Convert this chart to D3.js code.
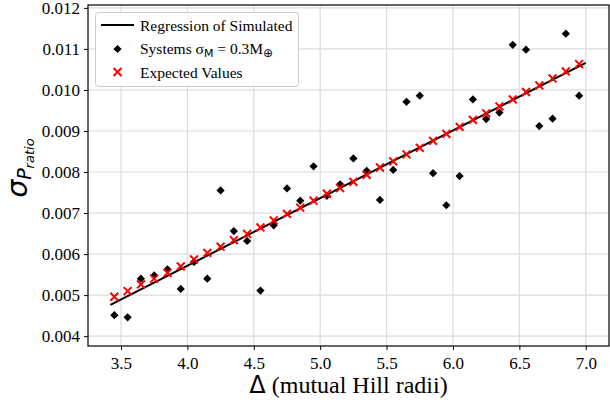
<!DOCTYPE html>
<html>
<head>
<meta charset="utf-8">
<script src="https://cdn.jsdelivr.net/npm/d3@7"></script>
<style>
  body { margin: 0; background: #fff; }
  svg { display: block; }
  text { font-family: "Liberation Serif", "Times New Roman", serif; fill: #000; }
</style>
</head>
<body>
<div id="chart-area"></div>
<script>
// Δ values (mutual Hill radii)
const deltas = [3.45, 3.55, 3.65, 3.75, 3.85, 3.95, 4.05, 4.15, 4.25, 4.35, 4.45, 4.55,
  4.65, 4.75, 4.85, 4.95, 5.05, 5.15, 5.25, 5.35, 5.45, 5.55, 5.65, 5.75,
  5.85, 5.95, 6.05, 6.15, 6.25, 6.35, 6.45, 6.55, 6.65, 6.75, 6.85, 6.95]

// simulated systems, sigma_M = 0.3 M_earth
const systems = [0.00451, 0.00446, 0.00540, 0.00548, 0.00563, 0.00515, 0.00581, 0.00540,
  0.00755, 0.00656, 0.00632, 0.00511, 0.00670, 0.00760, 0.00730, 0.00814, 0.00742, 0.00770,
  0.00833, 0.00803, 0.00732, 0.00805, 0.00971, 0.00986, 0.00797, 0.00719, 0.00790, 0.00977,
  0.00929, 0.00945, 0.01110, 0.01098, 0.00912, 0.00930, 0.01137, 0.00986]

// expected values
const expected = [0.00496, 0.00510, 0.00526, 0.00540, 0.00554, 0.00570, 0.00587, 0.00603,
  0.00618, 0.00634, 0.00649, 0.00665, 0.00682, 0.00698, 0.00713, 0.00730, 0.00747, 0.00761,
  0.00776, 0.00793, 0.00811, 0.00826, 0.00843, 0.00859, 0.00876, 0.00893, 0.00910, 0.00927,
  0.00943, 0.00960, 0.00977, 0.00995, 0.01011, 0.01028, 0.01045, 0.01063]

// regression of simulated (end points)
const regX = [3.42, 7.0]
const regY = [0.00476, 0.01066]

const xTicks = [3.5, 4.0, 4.5, 5.0, 5.5, 6.0, 6.5, 7.0]
const yTicks = [0.004, 0.005, 0.006, 0.007, 0.008, 0.009, 0.010, 0.011, 0.012]

const W = 610, H = 407
const PLOT = { LEFT: 88, RIGHT: 609, TOP: 5, BOTTOM: 346 }
const SERIF = "Liberation Serif"

const svg = d3.select("#chart-area").append("svg")
  .attr("width", W)
  .attr("height", H)

svg.append("rect").attr("width", W).attr("height", H).attr("fill", "#fff")

const x = d3.scaleLinear()
  .domain([3.2515, 7.175])
  .range([PLOT.LEFT, PLOT.RIGHT])

const y = d3.scaleLinear()
  .domain([0.00376, 0.01207])
  .range([PLOT.BOTTOM, PLOT.TOP])

// grid
const grid = svg.append("g").attr("class", "grid")
grid.selectAll("line.gx")
  .data(xTicks)
  .enter().append("line")
    .attr("class", "gx")
    .attr("x1", d => x(d)).attr("x2", d => x(d))
    .attr("y1", PLOT.TOP).attr("y2", PLOT.BOTTOM)
    .attr("stroke", "#dcdcdc").attr("stroke-width", 1.2)
grid.selectAll("line.gy")
  .data(yTicks)
  .enter().append("line")
    .attr("class", "gy")
    .attr("x1", PLOT.LEFT).attr("x2", PLOT.RIGHT)
    .attr("y1", d => y(d)).attr("y2", d => y(d))
    .attr("stroke", "#dcdcdc").attr("stroke-width", 1.2)

// axes
const xAxisCall = d3.axisBottom(x)
  .tickValues(xTicks)
  .tickFormat(d3.format(".1f"))
  .tickSize(4)
  .tickPadding(7)
const xAxis = svg.append("g")
  .attr("class", "x axis")
  .attr("transform", `translate(0, ${PLOT.BOTTOM})`)
  .call(xAxisCall)
  .attr("font-family", SERIF)
  .attr("font-size", 17)
xAxis.select(".domain").remove()

const yAxisCall = d3.axisLeft(y)
  .tickValues(yTicks)
  .tickFormat(d3.format(".3f"))
  .tickSize(4)
  .tickPadding(4)
const yAxis = svg.append("g")
  .attr("class", "y axis")
  .attr("transform", `translate(${PLOT.LEFT}, 0)`)
  .call(yAxisCall)
  .attr("font-family", SERIF)
  .attr("font-size", 17)
yAxis.select(".domain").remove()

// regression line
const line = d3.line()
  .x(d => x(d[0]))
  .y(d => y(d[1]))
svg.append("path")
  .datum(regX.map((d, i) => [d, regY[i]]))
  .attr("d", line)
  .attr("fill", "none")
  .attr("stroke", "#000")
  .attr("stroke-width", 2)

// simulated systems
const diamond = d3.symbol().type(d3.symbolSquare).size(34)
svg.selectAll("path.sys")
  .data(deltas)
  .enter().append("path")
    .attr("class", "sys")
    .attr("d", diamond)
    .attr("transform", (d, i) => `translate(${x(d)}, ${y(systems[i])}) rotate(45)`)
    .attr("fill", "#000")

// expected values
const cross = d3.symbol().type(d3.symbolX).size(42)
svg.selectAll("path.exp")
  .data(deltas)
  .enter().append("path")
    .attr("class", "exp")
    .attr("d", cross)
    .attr("transform", (d, i) => `translate(${x(d)}, ${y(expected[i])})`)
    .attr("fill", "none")
    .attr("stroke", "#ff0000")
    .attr("stroke-width", 2)

// frame
svg.append("rect")
  .attr("x", PLOT.LEFT).attr("y", PLOT.TOP)
  .attr("width", PLOT.RIGHT - PLOT.LEFT)
  .attr("height", PLOT.BOTTOM - PLOT.TOP)
  .attr("fill", "none")
  .attr("stroke", "#000")
  .attr("stroke-width", 1.2)

// axis labels
const xl = svg.append("text")
  .attr("x", (PLOT.LEFT + PLOT.RIGHT) / 2)
  .attr("y", 393)
  .attr("text-anchor", "middle")
  .style("font-size", "24px")
xl.append("tspan").style("font-family", "DejaVu Sans").text("Δ")
xl.append("tspan").text(" (mutual Hill radii)")

const yl = svg.append("text")
  .attr("transform", "translate(27, 168) rotate(-90)")
  .attr("text-anchor", "middle")
  .style("font-family", "DejaVu Sans")
  .style("font-style", "italic")
yl.append("tspan").style("font-size", "28px").text("σ")
yl.append("tspan").style("font-size", "19px").attr("dy", 4).text("P")
yl.append("tspan").style("font-size", "13px").attr("dy", 3).text("ratio")

// legend
const lg = svg.append("g").attr("class", "legend")
lg.append("rect")
  .attr("x", 95.5).attr("y", 12.5)
  .attr("width", 203).attr("height", 74)
  .attr("rx", 3)
  .attr("fill", "#fff")
  .attr("fill-opacity", 0.9)
  .attr("stroke", "#cccccc")

lg.append("line")
  .attr("x1", 101).attr("x2", 134)
  .attr("y1", 25).attr("y2", 25)
  .attr("stroke", "#000").attr("stroke-width", 2)
lg.append("path")
  .attr("d", diamond)
  .attr("transform", "translate(117.5, 49) rotate(45)")
  .attr("fill", "#000")
lg.append("path")
  .attr("d", cross)
  .attr("transform", "translate(117.5, 72)")
  .attr("fill", "none")
  .attr("stroke", "#ff0000")
  .attr("stroke-width", 2)

const legendSize = "15.5px"
lg.append("text").attr("x", 140).attr("y", 30.5)
  .style("font-size", legendSize).text("Regression of Simulated")
const sysText = lg.append("text").attr("x", 140).attr("y", 54)
  .style("font-size", legendSize)
sysText.append("tspan").text("Systems σ")
sysText.append("tspan").attr("dy", 3).style("font-size", "11px")
  .style("font-family", "DejaVu Sans").text("M")
sysText.append("tspan").attr("dy", -3).text(" = 0.3M")
sysText.append("tspan").attr("dy", 3).style("font-size", "12px")
  .style("font-family", "DejaVu Sans").text("⊕")
lg.append("text").attr("x", 140).attr("y", 77.5)
  .style("font-size", legendSize).text("Expected Values")
</script>
</body>
</html>
